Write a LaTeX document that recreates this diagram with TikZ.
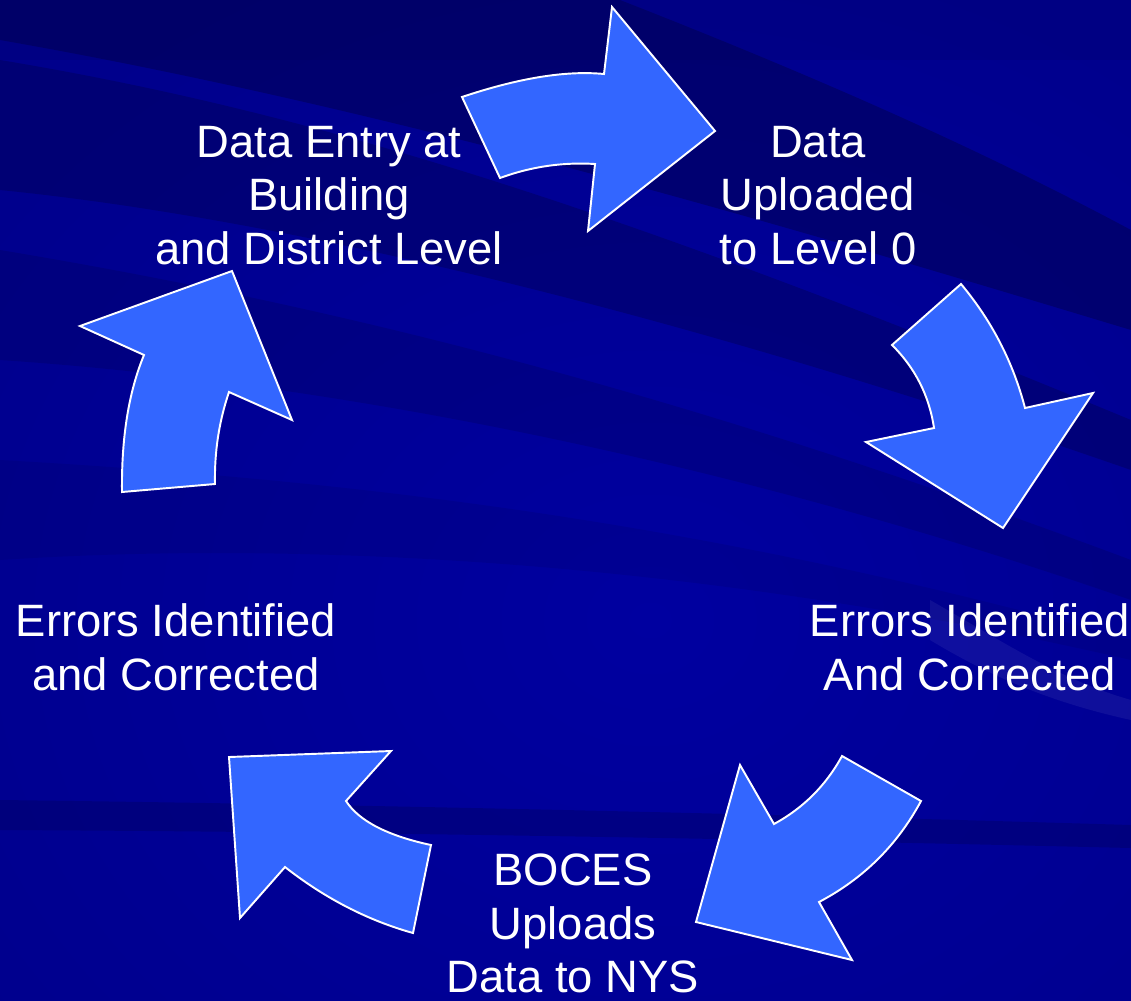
\documentclass[tikz,border=0pt]{standalone}
\usepackage{fontspec}
\setmainfont{Liberation Sans}
\usetikzlibrary{calc}
\definecolor{arrowblue}{RGB}{51,102,255}
\definecolor{bgnavy}{RGB}{0,0,140}
\definecolor{bgdark}{RGB}{0,0,80}
\definecolor{bglight}{RGB}{0,0,160}
\newcommand{\qto}[2]{.. controls ($(\tikztostart)!0.6667!(#1)$) and ($(#2)!0.6667!(#1)$) .. (#2)}
\begin{document}
\begin{tikzpicture}[x=0.01cm,y=-0.01cm,
  cyc/.style={fill=arrowblue,draw=white,line width=0.55pt,line join=miter},
  lbl/.style={text=white,align=center,inner sep=0pt,font=\fontsize{12.9}{15.3}\selectfont}]
\useasboundingbox (0,0) rectangle (1131,1000);
\begin{scope}
\clip (0,0) rectangle (1131,1000);
% base background
\fill[bgnavy] (0,0) rectangle (1131,1000);
\shade[inner color=bglight,outer color=bgnavy] (-200,-100) rectangle (1500,1340);
% dark upper-left streaks
\fill[bgdark,opacity=0.5] (0,0) -- (620,0) .. controls (850,90) and (1000,160) .. (1131,230) -- (1131,330) .. controls (800,230) and (400,110) .. (0,40) -- cycle;
\fill[bgdark,opacity=0.4] (0,60) .. controls (300,110) and (600,200) .. (1131,420) -- (1131,470) .. controls (700,320) and (300,220) .. (0,190) -- cycle;
\fill[bgdark,opacity=0.25] (0,250) .. controls (300,300) and (650,380) .. (1131,560) -- (1131,600) .. controls (700,450) and (300,380) .. (0,360) -- cycle;
\fill[bgdark,opacity=0.15] (0,460) .. controls (350,480) and (700,520) .. (1131,640) -- (1131,660) .. controls (700,560) and (300,540) .. (0,560) -- cycle;
% lighter swoosh at right
\fill[white,opacity=0.06] (930,600) .. controls (1000,640) and (1060,680) .. (1131,700) -- (1131,720) .. controls (1040,700) and (980,670) .. (930,640) -- cycle;
% horizontal dark band near bottom
\fill[bgdark,opacity=0.3] (0,800) .. controls (400,805) and (800,815) .. (1131,825) -- (1131,848) .. controls (800,840) and (400,832) .. (0,830) -- cycle;
\fill[bgdark,opacity=0.15] (0,0) rectangle (1131,60);
\end{scope}
% arrows
\draw[cyc] (462,97) to[to path={\qto{547,68.5}{604,74}}] (604,74) -- (612,7) -- (715,131) -- (588,231) -- (595,164) to[to path={\qto{546.5,161}{500,178}}] (500,178) -- cycle;
\draw[cyc] (961,284) to[to path={\qto{1007,339}{1025,408}}] (1025,408) -- (1093,393) -- (1003,528) -- (866,442) -- (934,428) to[to path={\qto{926.7,379.4}{892,345}}] (892,345) -- cycle;
\draw[cyc] (921,801) to[to path={\qto{885.5,867}{819,902}}] (819,902) -- (852,960) -- (696,922) -- (740,765) -- (774,824) to[to path={\qto{818,800}{842,756}}] (842,756) -- cycle;
\draw[cyc] (229,757) -- (391,751) -- (346,801) to[to path={\qto{365.5,831}{431,845}}] (431,845) -- (413,933) to[to path={\qto{345,914}{285,867}}] (285,867) -- (240,918) -- cycle;
\draw[cyc] (232,271) -- (80,326) -- (144,355) to[to path={\qto{121,410.5}{122,492}}] (122,492) -- (215,484) to[to path={\qto{214,436}{229,392}}] (229,392) -- (292,420) -- cycle;
% labels
\node[lbl] (entry) at (329,195.5) {Data Entry at\\Building\\and District Level};
\node[lbl] (upload) at (818,195.5) {Data\\Uploaded\\to Level 0};
\node[lbl] (errR) at (970,647.5) {Errors Identified\\And Corrected};
\node[lbl] (errL) at (176,647.5) {Errors Identified\\and Corrected};
\node[lbl] (boces) at (573,923.5) {BOCES\\Uploads\\Data to NYS};
\end{tikzpicture}
\end{document}
